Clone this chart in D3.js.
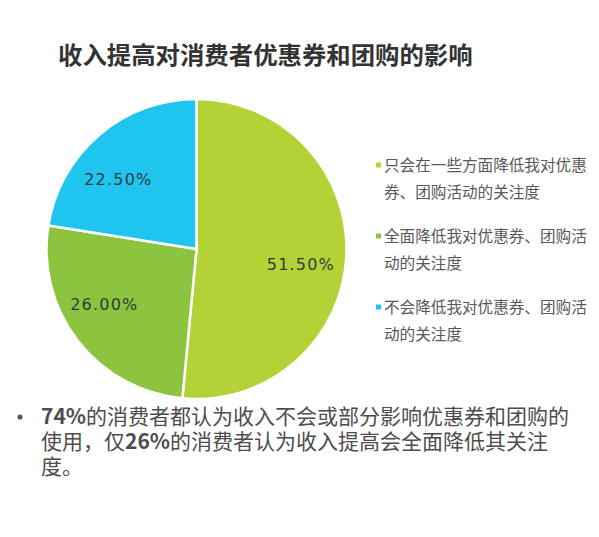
<!DOCTYPE html>
<html>
<head>
<meta charset="utf-8">
<script src="https://cdn.jsdelivr.net/npm/d3@7"></script>
<style>
  body { margin: 0; background: #fff; }
  svg { display: block; }
</style>
</head>
<body>
<svg width="599" height="537"></svg>
<script>
// data
var categories = ['只会在一些方面降低我对优惠券、团购活动的关注度',
                  '全面降低我对优惠券、团购活动的关注度',
                  '不会降低我对优惠券、团购活动的关注度'];
var values = [51.5, 26.0, 22.5];
var legendLines = [['只会在一些方面降低我对优惠', '券、团购活动的关注度'],
                   ['全面降低我对优惠券、团购活', '动的关注度'],
                   ['不会降低我对优惠券、团购活', '动的关注度']];
var colors = ['#b2d235', '#8cc33f', '#1fc5ef'];
var noteLines = [['74%', '的消费者都认为收入不会或部分影响优惠券和团购的'],
                 ['使用，仅', '26%', '的消费者认为收入提高会全面降低其关注'],
                 ['度。']];

var cjk = '"Noto Sans CJK SC", "Microsoft YaHei", sans-serif';
var svg = d3.select('svg');

// title
svg.append('text')
    .attr('x', 58)
    .attr('y', 64)
    .attr('font-family', cjk)
    .attr('font-size', 24.4)
    .attr('font-weight', 'bold')
    .attr('fill', '#333')
    .text('收入提高对消费者优惠券和团购的影响');

// pie
var cx = 196.5, cy = 249, radius = 150;
var pie = d3.pie().sort(null).value(function(d) { return d; });
var arc = d3.arc().innerRadius(0).outerRadius(radius);
var labelArc = d3.arc().innerRadius(radius * 0.71).outerRadius(radius * 0.71);
// small label nudges so they sit where the original put them
var nudge = [[-2, 10], [-8, -10], [-9, 11]];

var g = svg.append('g')
    .attr('transform', 'translate(' + [cx, cy] + ')');

var slices = g.selectAll('.slice')
    .data(pie(values))
    .enter()
    .append('g')
    .attr('class', 'slice');

slices.append('path')
    .attr('d', arc)
    .attr('fill', function(d, i) { return colors[i]; })
    .attr('stroke', '#fff')
    .attr('stroke-width', 2.5);

slices.append('text')
    .attr('transform', function(d, i) {
        var c = labelArc.centroid(d);
        return 'translate(' + [c[0] + nudge[i][0], c[1] + nudge[i][1]] + ')';
    })
    .attr('dy', '0.36em')
    .attr('text-anchor', 'middle')
    .attr('font-family', '"DejaVu Sans", Verdana, sans-serif')
    .attr('font-size', 16)
    .attr('letter-spacing', 1.2)
    .attr('fill', '#2f3a40')
    .text(function(d) { return d.value.toFixed(2) + '%'; });

// legend
var legend = svg.selectAll('.legend')
    .data(categories)
    .enter()
    .append('g')
    .attr('class', 'legend')
    .attr('transform', function(d, i) {
        return 'translate(' + [376, 165 + i * 71] + ')';
    });

legend.append('rect')
    .attr('x', 0)
    .attr('y', -2.5)
    .attr('width', 5)
    .attr('height', 5)
    .attr('fill', function(d, i) { return colors[i]; });

legend.append('text')
    .attr('font-family', cjk)
    .attr('font-size', 15.6)
    .attr('fill', '#595959')
    .selectAll('tspan')
    .data(function(d, i) { return legendLines[i]; })
    .enter()
    .append('tspan')
    .attr('x', 8)
    .attr('y', function(d, i) { return i * 27; })
    .attr('dy', '0.36em')
    .text(function(d) { return d; });

// note below the pie
svg.append('circle')
    .attr('cx', 20)
    .attr('cy', 417)
    .attr('r', 2.6)
    .attr('fill', '#595959');

noteLines.forEach(function(parts, li) {
    var line = svg.append('text')
        .attr('x', 41)
        .attr('y', 424 + li * 25)
        .attr('font-family', cjk)
        .attr('font-size', 21)
        .attr('fill', '#4d4d4d');
    parts.forEach(function(p) {
        line.append('tspan')
            .attr('font-weight', /%/.test(p) ? 'bold' : 'normal')
            .text(p);
    });
});
</script>
</body>
</html>
